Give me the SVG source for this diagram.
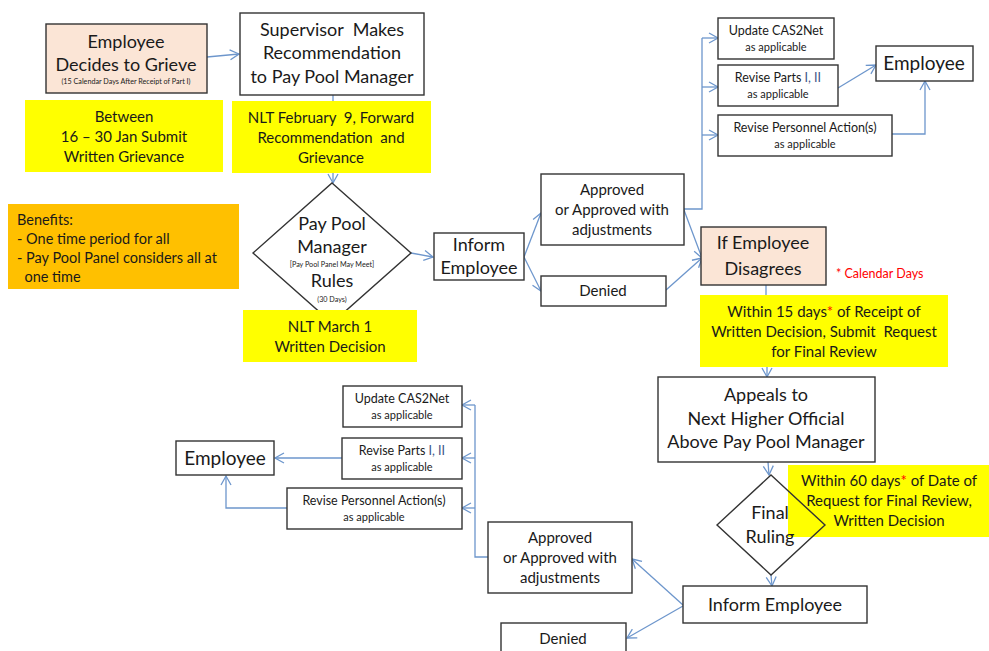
<svg xmlns="http://www.w3.org/2000/svg" width="989" height="651" viewBox="0 0 989 651">
<defs>
<marker id="arr" markerWidth="12" markerHeight="12" refX="10" refY="6" orient="auto" markerUnits="userSpaceOnUse">
<path d="M1,1 L10,6 L1,11" fill="none" stroke="#6d96cc" stroke-width="1.3"/>
</marker>
</defs>
<style>
text{font-family:Lato,"Liberation Sans",sans-serif;fill:#1a1a1a;text-anchor:middle;white-space:pre}
.box{fill:#fff;stroke:#333;stroke-width:1.4}
.peach{fill:#fbe5d6;stroke:#333;stroke-width:1.4}
.yel{fill:#ffff00}
.org{fill:#ffc000}
.c{fill:none;stroke:#6d96cc;stroke-width:1.3}
.a{marker-end:url(#arr)}
.big{font-size:18px}
.med{font-size:15px}
.sm{font-size:12.5px}
.xs{font-size:11px}
.tiny{font-size:7.2px}
.ben{font-size:14.5px;text-anchor:start}
.blu{fill:#3d5688}
</style>
<rect width="989" height="651" fill="#fff"/>

<g id="connectors">
<line class="c a" x1="207" y1="57" x2="239" y2="54"/>
<line class="c" x1="333" y1="95" x2="333" y2="101"/>
<line class="c a" x1="333" y1="173" x2="333" y2="183"/>
<line class="c a" x1="411" y1="253" x2="433" y2="257"/>
<line class="c a" x1="524" y1="257" x2="541" y2="213"/>
<line class="c a" x1="524" y1="257" x2="541" y2="291"/>
<polyline class="c" points="684,209 702,209 702,38"/>
<line class="c a" x1="702" y1="38" x2="718" y2="38"/>
<line class="c a" x1="702" y1="87" x2="718" y2="87"/>
<line class="c a" x1="702" y1="135" x2="718" y2="135"/>
<line class="c a" x1="838" y1="88" x2="876" y2="65"/>
<polyline class="c a" points="892,134 925,134 925,81"/>
<line class="c a" x1="684" y1="210" x2="702" y2="258"/>
<line class="c a" x1="666" y1="290" x2="702" y2="258"/>
<line class="c" x1="766" y1="285" x2="766" y2="295"/>
<line class="c a" x1="767" y1="367" x2="767" y2="377"/>
<line class="c a" x1="768" y1="462" x2="769" y2="475"/>
<line class="c a" x1="771" y1="575" x2="772" y2="586"/>
<line class="c a" x1="683" y1="605" x2="632" y2="559"/>
<line class="c a" x1="683" y1="606" x2="627" y2="638"/>
<polyline class="c" points="488,557 475,557 475,405"/>
<line class="c a" x1="475" y1="405" x2="462" y2="405"/>
<line class="c a" x1="475" y1="458" x2="462" y2="458"/>
<line class="c a" x1="475" y1="508" x2="462" y2="508"/>
<line class="c a" x1="342" y1="458" x2="275" y2="458"/>
<polyline class="c a" points="287,508 226,508 226,476"/>
</g>

<g id="employee-decides">
<rect class="peach" x="46" y="24" width="161" height="69"/>
<text class="big" x="126" y="48">Employee</text>
<text class="big" x="126" y="71">Decides to Grieve</text>
<text class="tiny" x="126" y="84">(15 Calendar Days After Receipt of Part I)</text>
</g>

<g id="supervisor">
<rect class="box" x="240" y="13" width="184" height="82"/>
<text class="big" x="332" y="36">Supervisor  Makes</text>
<text class="big" x="332" y="59">Recommendation</text>
<text class="big" x="332" y="83">to Pay Pool Manager</text>
</g>

<g id="note-between">
<rect class="yel" x="25" y="100" width="198" height="72"/>
<text class="med" x="124" y="122">Between</text>
<text class="med" x="124" y="142">16 – 30 Jan Submit</text>
<text class="med" x="124" y="162">Written Grievance</text>
</g>

<g id="note-feb">
<rect class="yel" x="232" y="101" width="199" height="72"/>
<text class="med" x="331" y="123">NLT February  9, Forward</text>
<text class="med" x="331" y="143">Recommendation  and</text>
<text class="med" x="331" y="163">Grievance</text>
</g>

<g id="benefits">
<rect class="org" x="8" y="204" width="231" height="85"/>
<text class="ben" x="17" y="225">Benefits:</text>
<text class="ben" x="17" y="244">- One time period for all</text>
<text class="ben" x="17" y="263">- Pay Pool Panel considers all at</text>
<text class="ben" x="17" y="282">  one time</text>
</g>

<g id="pay-pool-manager">
<polygon class="box" points="332,183 411,253 332,323 253,253"/>
<text class="big" x="332" y="230">Pay Pool</text>
<text class="big" x="332" y="253">Manager</text>
<text class="tiny" x="332" y="267">[Pay Pool Panel May Meet]</text>
<text class="big" x="332" y="287">Rules</text>
<text class="tiny" x="332" y="302">(30 Days)</text>
</g>

<g id="note-march">
<rect class="yel" x="243" y="310" width="174" height="52"/>
<text class="med" x="330" y="332">NLT March 1</text>
<text class="med" x="330" y="352">Written Decision</text>
</g>

<g id="inform-1">
<rect class="box" x="434" y="233" width="90" height="47"/>
<text class="big" x="479" y="251">Inform</text>
<text class="big" x="479" y="274">Employee</text>
</g>

<g id="approved-1">
<rect class="box" x="541" y="174" width="143" height="71"/>
<text class="med" x="612" y="195">Approved</text>
<text class="med" x="612" y="215">or Approved with</text>
<text class="med" x="612" y="235">adjustments</text>
</g>

<g id="denied-1">
<rect class="box" x="541" y="276" width="125" height="30"/>
<text class="med" x="603" y="296">Denied</text>
</g>

<g id="update-1">
<rect class="box" x="718" y="18" width="116" height="41"/>
<text class="sm" x="776" y="35">Update CAS2Net</text>
<text class="xs" x="776" y="51">as applicable</text>
</g>

<g id="revise-parts-1">
<rect class="box" x="718" y="65" width="120" height="41"/>
<text class="sm" x="778" y="82">Revise Parts <tspan class="blu">I, II</tspan></text>
<text class="xs" x="778" y="98">as applicable</text>
</g>

<g id="revise-personnel-1">
<rect class="box" x="718" y="115" width="174" height="41"/>
<text class="sm" x="805" y="132">Revise Personnel Action(s)</text>
<text class="xs" x="805" y="148">as applicable</text>
</g>

<g id="employee-1">
<rect class="box" x="876" y="46" width="97" height="35"/>
<text x="924" y="70" style="font-size:19px">Employee</text>
</g>

<g id="if-disagrees">
<rect class="peach" x="701" y="227" width="125" height="58"/>
<text class="big" x="763" y="249">If Employee</text>
<text class="big" x="763" y="275">Disagrees</text>
</g>

<text id="calendar-note" x="836" y="278" style="font-size:12.5px;fill:#ff0000;text-anchor:start">* Calendar Days</text>

<g id="note-15">
<rect class="yel" x="700" y="295" width="248" height="72"/>
<text class="med" x="824" y="317">Within 15 days<tspan fill="#ff0000">*</tspan> of Receipt of</text>
<text class="med" x="824" y="337">Written Decision, Submit  Request</text>
<text class="med" x="824" y="357">for Final Review</text>
</g>

<g id="appeals">
<rect class="box" x="658" y="377" width="217" height="85"/>
<text class="big" x="766" y="401">Appeals to</text>
<text class="big" x="766" y="425">Next Higher Official</text>
<text class="big" x="766" y="448">Above Pay Pool Manager</text>
</g>

<g id="note-60">
<rect class="yel" x="788" y="465" width="201" height="72"/>
<text class="med" x="889" y="486">Within 60 days<tspan fill="#ff0000">*</tspan> of Date of</text>
<text class="med" x="889" y="506">Request for Final Review,</text>
<text class="med" x="889" y="526">Written Decision</text>
</g>

<g id="final-ruling">
<polygon points="771,476 788,492 788,558 771,574 718,525" fill="#fff"/>
<polygon points="771,475 825,525 771,575 717,525" fill="none" stroke="#333" stroke-width="1.4"/>
<text class="big" x="770" y="519">Final</text>
<text class="big" x="770" y="543">Ruling</text>
</g>

<g id="inform-2">
<rect class="box" x="683" y="586" width="184" height="37"/>
<text class="big" x="775" y="611">Inform Employee</text>
</g>

<g id="approved-2">
<rect class="box" x="488" y="522" width="144" height="71"/>
<text class="med" x="560" y="543">Approved</text>
<text class="med" x="560" y="563">or Approved with</text>
<text class="med" x="560" y="583">adjustments</text>
</g>

<g id="denied-2">
<rect class="box" x="501" y="623" width="125" height="40"/>
<text class="med" x="563" y="644">Denied</text>
</g>

<g id="update-2">
<rect class="box" x="343" y="386" width="119" height="41"/>
<text class="sm" x="402" y="403">Update CAS2Net</text>
<text class="xs" x="402" y="419">as applicable</text>
</g>

<g id="revise-parts-2">
<rect class="box" x="342" y="438" width="120" height="41"/>
<text class="sm" x="402" y="455">Revise Parts <tspan class="blu">I, II</tspan></text>
<text class="xs" x="402" y="471">as applicable</text>
</g>

<g id="revise-personnel-2">
<rect class="box" x="287" y="488" width="175" height="41"/>
<text class="sm" x="374" y="505">Revise Personnel Action(s)</text>
<text class="xs" x="374" y="521">as applicable</text>
</g>

<g id="employee-2">
<rect class="box" x="176" y="441" width="98" height="34"/>
<text x="225" y="465" style="font-size:19px">Employee</text>
</g>
</svg>
